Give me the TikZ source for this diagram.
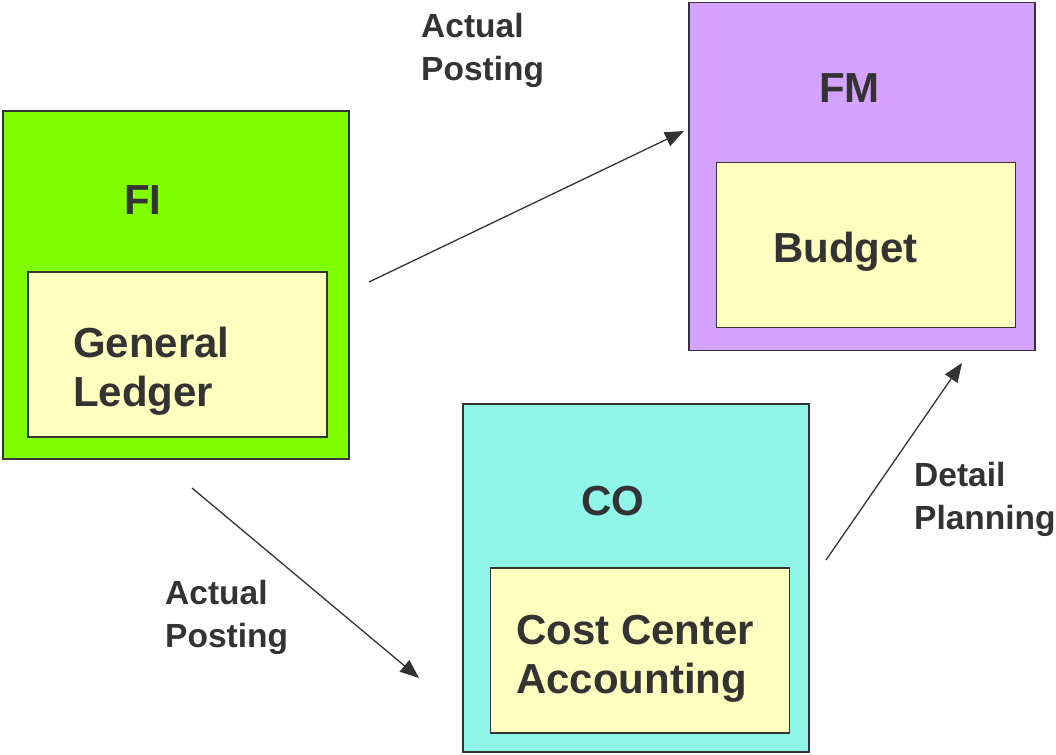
\documentclass[tikz,border=0pt]{standalone}
\usepackage{fontspec}
\setmainfont{Liberation Sans}
\usetikzlibrary{positioning}
\usetikzlibrary{arrows.meta}
\usepackage{xcolor}
\definecolor{ink}{HTML}{333333}
\definecolor{figreen}{HTML}{80FF00}
\definecolor{fmlilac}{HTML}{D5A3FF}
\definecolor{cocyan}{HTML}{90F5E9}
\definecolor{subyellow}{HTML}{FFFFC0}

\begin{document}
\begin{tikzpicture}[x=1pt, y=-1pt,
    module/.style={draw=ink, line width=1.5pt, minimum width=346pt, minimum height=348pt, inner sep=0pt},
    sub/.style={draw=ink, line width=1.5pt, fill=subyellow, minimum width=299pt, minimum height=165pt, inner sep=0pt},
    big/.style={text=ink, inner sep=0pt, anchor=base west, align=left, font=\bfseries\fontsize{42}{49}\selectfont},
    lbl/.style={text=ink, inner sep=0pt, anchor=base west, align=left, font=\bfseries\fontsize{33.5}{43}\selectfont},
    flow/.style={draw=ink, line width=1.3pt, -{Triangle[length=19pt, width=15pt]}}]
            \useasboundingbox (0, 0) rectangle (1056, 754);

            % modules
            \node[module, fill=figreen] (fi) at (176, 285) {};
            \node[module, fill=fmlilac] (fm) at (862, 176.5) {};
            \node[module, fill=cocyan] (co) at (636, 578) {};
            \node[sub] (gl) at (177.5, 354.5) {};
            \node[sub] (bud) at (866, 245) {};
            \node[sub] (cca) at (640, 650.5) {};

            % texts (base of a two-line node = its last line)
            \node[big] (fitxt) at (124, 214) {FI};
            \node[big] (gltxt) at (73, 406) {General\\Ledger};
            \node[big] (fmtxt) at (819, 103) {FM};
            \node[big] (budtxt) at (773, 262) {Budget};
            \node[big] (cotxt) at (581, 515) {CO};
            \node[big] (ccatxt) at (516, 693) {Cost Center\\Accounting};
            \node[lbl] (ap1) at (421, 81) {Actual\\Posting};
            \node[lbl] (ap2) at (165, 647) {Actual\\Posting};
            \node[lbl] (dp) at (914, 529) {Detail\\Planning};

            % connectors
            \coordinate (a1) at (369, 282);
            \coordinate (b1) at (684, 131);
            \coordinate (a2) at (192, 488);
            \coordinate (b2) at (419, 678);
            \coordinate (a3) at (826, 560);
            \coordinate (b3) at (962, 363);
            \draw[flow] (a1) -- (b1);
            \draw[flow] (a2) -- (b2);
            \draw[flow] (a3) -- (b3);
        \end{tikzpicture}
\end{document}
